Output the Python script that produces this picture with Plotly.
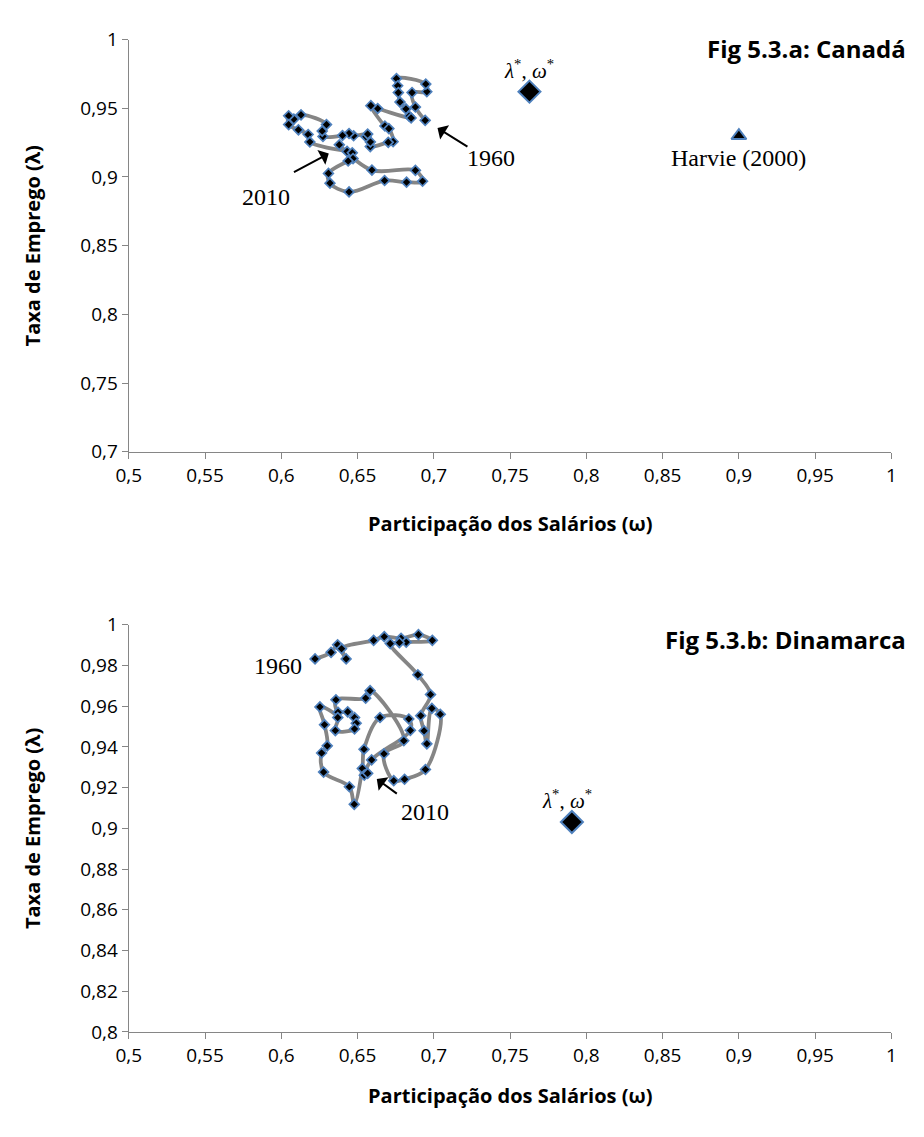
import plotly.graph_objects as go

# ---------------- data: Canada (1960 -> 2010) ----------------
can_omega = [0.6943, 0.6879, 0.6857, 0.6954, 0.6947, 0.6755, 0.6763, 0.6767, 0.6778, 0.6817,
             0.6838, 0.6851, 0.6632, 0.6587, 0.6679, 0.6705, 0.6733, 0.6701, 0.6583, 0.6584,
             0.6555, 0.6566, 0.6474, 0.6444, 0.6401, 0.6273, 0.6268, 0.6296, 0.6129, 0.6082,
             0.6048, 0.6048, 0.6112, 0.6176, 0.6187, 0.6431, 0.6465, 0.6470, 0.6438, 0.6309,
             0.6319, 0.6444, 0.6677, 0.6821, 0.6926, 0.6879, 0.6594, 0.6380]
can_lambda = [0.9412, 0.9509, 0.9614, 0.9621, 0.9676, 0.9716, 0.9664, 0.9614, 0.9545, 0.9495,
              0.9443, 0.9429, 0.9498, 0.9519, 0.9371, 0.9352, 0.9257, 0.9252, 0.9221, 0.9255,
              0.9293, 0.9312, 0.9300, 0.9316, 0.9302, 0.9295, 0.9334, 0.9381, 0.9452, 0.9421,
              0.9445, 0.9381, 0.9343, 0.9309, 0.9255, 0.9186, 0.9176, 0.9134, 0.9116, 0.9026,
              0.8955, 0.8891, 0.8974, 0.8962, 0.8969, 0.9048, 0.9050, 0.9234]
can_eq = (0.7627, 0.9621)      # (omega*, lambda*)
can_harvie = (0.900, 0.930)

# ---------------- data: Denmark (1960 -> 2010) ----------------
den_omega = [0.6221, 0.6326, 0.6369, 0.6425, 0.6395, 0.6605, 0.6675, 0.6785, 0.6899, 0.6990,
             0.6819, 0.6774, 0.6714, 0.6895, 0.6978, 0.6914, 0.6936, 0.6954, 0.6987, 0.7042,
             0.6945, 0.6808, 0.6737, 0.6673, 0.6803, 0.6582, 0.6553, 0.6358, 0.6372, 0.6435,
             0.6480, 0.6491, 0.6480, 0.6354, 0.6370, 0.6253, 0.6283, 0.6301, 0.6264, 0.6277,
             0.6446, 0.6478, 0.6531, 0.6542, 0.6647, 0.6836, 0.6846, 0.6592, 0.6544, 0.6566]
den_lambda = [0.9832, 0.9864, 0.9901, 0.9832, 0.9882, 0.9923, 0.9941, 0.9933, 0.9951, 0.9923,
              0.9914, 0.9912, 0.9907, 0.9754, 0.9657, 0.9553, 0.9479, 0.9415, 0.9589, 0.9560,
              0.9289, 0.9241, 0.9234, 0.9366, 0.9430, 0.9676, 0.9639, 0.9631, 0.9570, 0.9572,
              0.9544, 0.9516, 0.9488, 0.9480, 0.9544, 0.9596, 0.9509, 0.9405, 0.9370, 0.9276,
              0.9204, 0.9118, 0.9294, 0.9388, 0.9544, 0.9537, 0.9481, 0.9336, 0.9261, 0.9270]
den_eq = (0.7905, 0.9031)

x_ticks = [0.5, 0.55, 0.6, 0.65, 0.7, 0.75, 0.8, 0.85, 0.9, 0.95, 1.0]
x_ticktext = ["0,5", "0,55", "0,6", "0,65", "0,7", "0,75", "0,8", "0,85", "0,9", "0,95", "1"]
y1_ticks = [0.7, 0.75, 0.8, 0.85, 0.9, 0.95, 1.0]
y1_ticktext = ["0,7", "0,75", "0,8", "0,85", "0,9", "0,95", "1"]
y2_ticks = [0.8, 0.82, 0.84, 0.86, 0.88, 0.9, 0.92, 0.94, 0.96, 0.98, 1.0]
y2_ticktext = ["0,8", "0,82", "0,84", "0,86", "0,88", "0,9", "0,92", "0,94", "0,96", "0,98", "1"]

# ---------------- layout helpers (page px -> paper; body has an 8px margin) ----------------
PAGE_W, PAGE_H = 924, 1137
OFF = 8
W, H = PAGE_W - 2 * OFF, PAGE_H - 2 * OFF
def px_x(p):
    return (p - OFF) / W
def px_y(p):
    return 1 - (p - OFF) / H

SANS = "Open Sans"
SERIF = "Liberation Serif"
LINE_GRAY = "#858585"
MK_BLUE = "#4F81BD"
AX_GRAY = "#868686"

fig = go.Figure()

def path_trace(xs, ys, xa, ya):
    return go.Scatter(
        x=xs, y=ys, xaxis=xa, yaxis=ya, mode="lines+markers",
        line=dict(color=LINE_GRAY, width=3.8, shape="spline", smoothing=1.0),
        marker=dict(symbol="diamond", size=7.5, color="black",
                    line=dict(color=MK_BLUE, width=1.7)),
        showlegend=False, hoverinfo="x+y")

fig.add_trace(path_trace(can_omega, can_lambda, "x", "y"))
fig.add_trace(go.Scatter(x=[can_eq[0]], y=[can_eq[1]], xaxis="x", yaxis="y", mode="markers",
                         marker=dict(symbol="diamond", size=17, color="black",
                                     line=dict(color=MK_BLUE, width=2)), showlegend=False))
fig.add_trace(go.Scatter(x=[can_harvie[0]], y=[can_harvie[1]], xaxis="x", yaxis="y", mode="markers",
                         marker=dict(symbol="triangle-up", size=13, color="black",
                                     line=dict(color=MK_BLUE, width=2)), showlegend=False))

fig.add_trace(path_trace(den_omega, den_lambda, "x2", "y2"))
fig.add_trace(go.Scatter(x=[den_eq[0]], y=[den_eq[1]], xaxis="x2", yaxis="y2", mode="markers",
                         marker=dict(symbol="diamond", size=17, color="black",
                                     line=dict(color=MK_BLUE, width=2)), showlegend=False))

tickfont = dict(family=SANS, size=19, color="#000")
common_x = dict(range=[0.5, 1.0], tickvals=x_ticks, ticktext=x_ticktext, showgrid=False,
                zeroline=False, showline=True, linecolor=AX_GRAY, linewidth=1.3,
                ticks="outside", ticklen=6, tickcolor=AX_GRAY, tickfont=tickfont,
                domain=[px_x(118), px_x(896)], fixedrange=True)
common_y = dict(showgrid=False, zeroline=False, showline=True, linecolor=AX_GRAY, linewidth=1.3,
                ticks="outside", ticklen=6, tickcolor=AX_GRAY, tickfont=tickfont, fixedrange=True)

fig.update_layout(
    width=W, height=H, margin=dict(l=0, r=0, t=0, b=0),
    paper_bgcolor="white", plot_bgcolor="white",
    xaxis=dict(**common_x, anchor="y"),
    yaxis=dict(**common_y, range=[0.7, 1.0], tickvals=y1_ticks, ticktext=y1_ticktext,
               domain=[px_y(449), px_y(27)], anchor="x"),
    xaxis2=dict(**common_x, anchor="y2"),
    yaxis2=dict(**common_y, range=[0.8, 1.0], tickvals=y2_ticks, ticktext=y2_ticktext,
                domain=[px_y(1043), px_y(626)], anchor="x2"),
)

ann = []
bold_title = dict(family=SANS, size=20, color="#000")
# axis titles
for yc, xt_y in [((27 + 449) / 2, 522), ((626 + 1043) / 2, 1108)]:
    ann.append(dict(xref="paper", yref="paper", x=px_x(20), y=px_y(yc), text="<b>Taxa de Emprego (λ)</b>",
                    textangle=-90, showarrow=False, font=bold_title, xanchor="center", yanchor="middle"))
    ann.append(dict(xref="paper", yref="paper", x=px_x(507), y=px_y(xt_y),
                    text="<b>Participação dos Salários (ω)</b>", showarrow=False, font=bold_title,
                    xanchor="center", yanchor="middle"))
# chart titles (right-aligned near the page edge, as in the reference)
ann.append(dict(xref="paper", yref="paper", x=px_x(913), y=px_y(36), text="<b>Fig 5.3.a: Canadá</b>",
                showarrow=False, font=dict(family=SANS, size=24, color="#000"),
                xanchor="right", yanchor="middle"))
ann.append(dict(xref="paper", yref="paper", x=px_x(913), y=px_y(641), text="<b>Fig 5.3.b: Dinamarca</b>",
                showarrow=False, font=dict(family=SANS, size=24, color="#000"),
                xanchor="right", yanchor="middle"))
# equilibrium labels
eq_text = "<i>λ</i><sup>*</sup>, <i>ω</i><sup>*</sup>"
ann.append(dict(xref="x", yref="y", x=0.7622, y=0.9779, text=eq_text, showarrow=False,
                font=dict(family=SERIF, size=21, color="#000")))
ann.append(dict(xref="x2", yref="y2", x=0.7873, y=0.9141, text=eq_text, showarrow=False,
                font=dict(family=SERIF, size=21, color="#000")))
ann.append(dict(xref="x", yref="y", x=0.900, y=0.9136, text="Harvie (2000)", showarrow=False,
                font=dict(family=SERIF, size=24, color="#000")))
# year labels
serif = dict(family=SERIF, size=24, color="#000")
ann.append(dict(xref="x", yref="y", x=0.7378, y=0.9136, text="1960", showarrow=False, font=serif))
ann.append(dict(xref="x", yref="y", x=0.5900, y=0.8857, text="2010", showarrow=False, font=serif))
ann.append(dict(xref="x2", yref="y2", x=0.5977, y=0.9799, text="1960", showarrow=False, font=serif))
ann.append(dict(xref="x2", yref="y2", x=0.6941, y=0.9079, text="2010", showarrow=False, font=serif))
# arrows
def arrow(xr, yr, x0, y0, x1, y1):
    return dict(xref=xr, yref=yr, axref=xr, ayref=yr, x=x1, y=y1, ax=x0, ay=y0, text="",
                showarrow=True, arrowhead=1, arrowsize=1.4, arrowwidth=2, arrowcolor="#000")
ann.append(arrow("x", "y", 0.7230, 0.9214, 0.7024, 0.9357))
ann.append(arrow("x", "y", 0.6073, 0.9029, 0.6311, 0.9171))
ann.append(arrow("x2", "y2", 0.6767, 0.9165, 0.6626, 0.9242))

fig.update_layout(annotations=ann)
fig.write_html("out.html")
